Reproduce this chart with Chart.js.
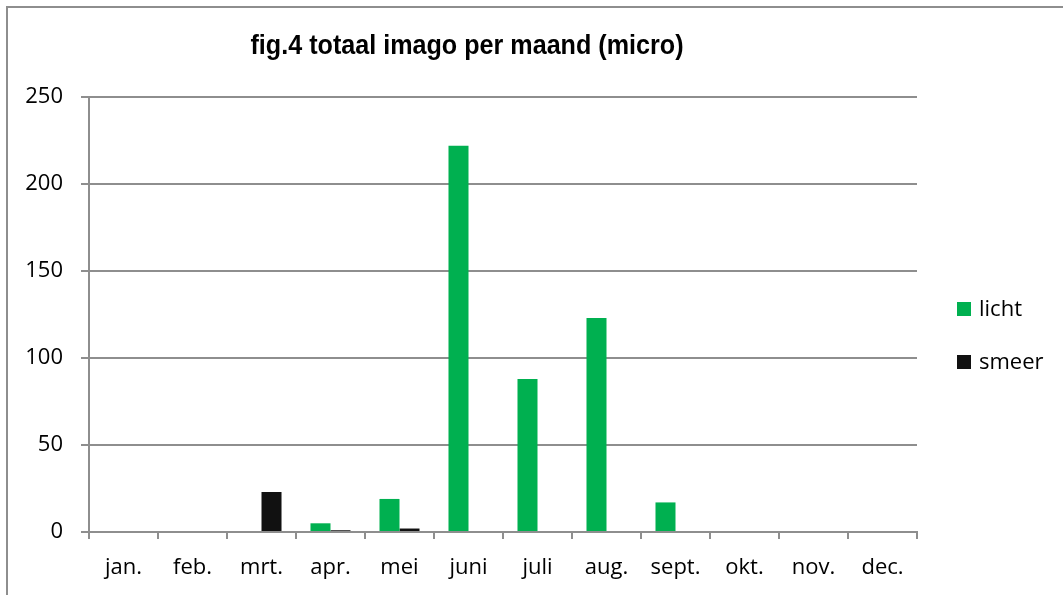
<!DOCTYPE html>
<html>
<head>
<meta charset="utf-8">
<script src="https://cdn.jsdelivr.net/npm/chart.js@4.4.1/dist/chart.umd.min.js"></script>
<style>
  html, body { margin: 0; padding: 0; background: #ffffff; }
  #wrap { position: relative; width: 1063px; height: 595px; }
  canvas { display: block; }
</style>
</head>
<body>
<div id="wrap"><canvas id="c" width="1063" height="595"></canvas></div>
<script>
const titleText = 'fig.4 totaal imago per maand (micro)';
const categories = ['jan.', 'feb.', 'mrt.', 'apr.', 'mei', 'juni', 'juli', 'aug.', 'sept.', 'okt.', 'nov.', 'dec.'];
const lichtValues = [0, 0, 0, 5, 19, 222, 88, 123, 17, 0, 0, 0];
const smeerValues = [0, 0, 23, 1, 2, 0, 0, 0, 0, 0, 0, 0];
const yTicks = [0, 50, 100, 150, 200, 250];

const GRID = '#8e8e8e';
const FONT = '"Open Sans", "Noto Sans", sans-serif';

const decorPlugin = {
  id: 'decor',
  afterDraw(chart) {
    const ctx = chart.ctx;
    ctx.save();
    // outer border (only top and left visible in the frame)
    ctx.strokeStyle = GRID;
    ctx.lineWidth = 2;
    ctx.beginPath();
    ctx.moveTo(7, 600);
    ctx.lineTo(7, 7);
    ctx.lineTo(1070, 7);
    ctx.stroke();
    // title (slightly condensed bold)
    ctx.save();
    ctx.fillStyle = '#000000';
    ctx.font = 'bold 28px "Liberation Sans", Arial, sans-serif';
    ctx.textAlign = 'center';
    ctx.textBaseline = 'alphabetic';
    const w = ctx.measureText(titleText).width;
    const sx = 433 / w;
    ctx.translate(467, 54);
    ctx.scale(sx, 1);
    ctx.fillText(titleText, 0, 0);
    ctx.restore();
    // legend
    const items = chart.data.datasets;
    const startY = 309, gap = 53;
    ctx.font = '22px ' + FONT;
    ctx.textAlign = 'left';
    ctx.textBaseline = 'middle';
    items.forEach((ds, i) => {
      const cy = startY + i * gap;
      ctx.fillStyle = ds.backgroundColor;
      ctx.fillRect(957, cy - 7, 14, 14);
      ctx.fillStyle = '#000000';
      ctx.fillText(ds.label, 979, cy + 1);
    });
    ctx.restore();
  }
};

new Chart(document.getElementById('c'), {
  type: 'bar',
  data: {
    labels: categories,
    datasets: [
      { label: 'licht', data: lichtValues, backgroundColor: '#00B050', borderWidth: 0 },
      { label: 'smeer', data: smeerValues, backgroundColor: '#111111', borderWidth: 0 }
    ]
  },
  options: {
    responsive: false,
    animation: false,
    devicePixelRatio: 1,
    layout: { padding: { top: 97, right: 146, bottom: 0, left: 0 } },
    categoryPercentage: 0.58,
    barPercentage: 1.0,
    plugins: {
      legend: { display: false },
      title: { display: false },
      tooltip: { enabled: false }
    },
    scales: {
      x: {
        offset: true,
        grid: { display: true, drawOnChartArea: false, offset: true, color: GRID, lineWidth: 2, tickLength: 7 },
        border: { display: true, color: GRID, width: 2 },
        ticks: { color: '#000000', font: { family: FONT, size: 22 }, padding: 16, maxRotation: 0, autoSkip: false },
        afterFit(s) { s.height = 63; }
      },
      y: {
        min: 0,
        max: 250,
        afterBuildTicks(s) { s.ticks = yTicks.map(v => ({ value: v })); },
        grid: { color: GRID, lineWidth: 2, tickLength: 8 },
        border: { display: true, color: GRID, width: 2 },
        ticks: { color: '#000000', font: { family: FONT, size: 22 }, padding: 18 },
        afterFit(s) { s.width = 89; }
      }
    }
  },
  plugins: [decorPlugin]
});
</script>
</body>
</html>
